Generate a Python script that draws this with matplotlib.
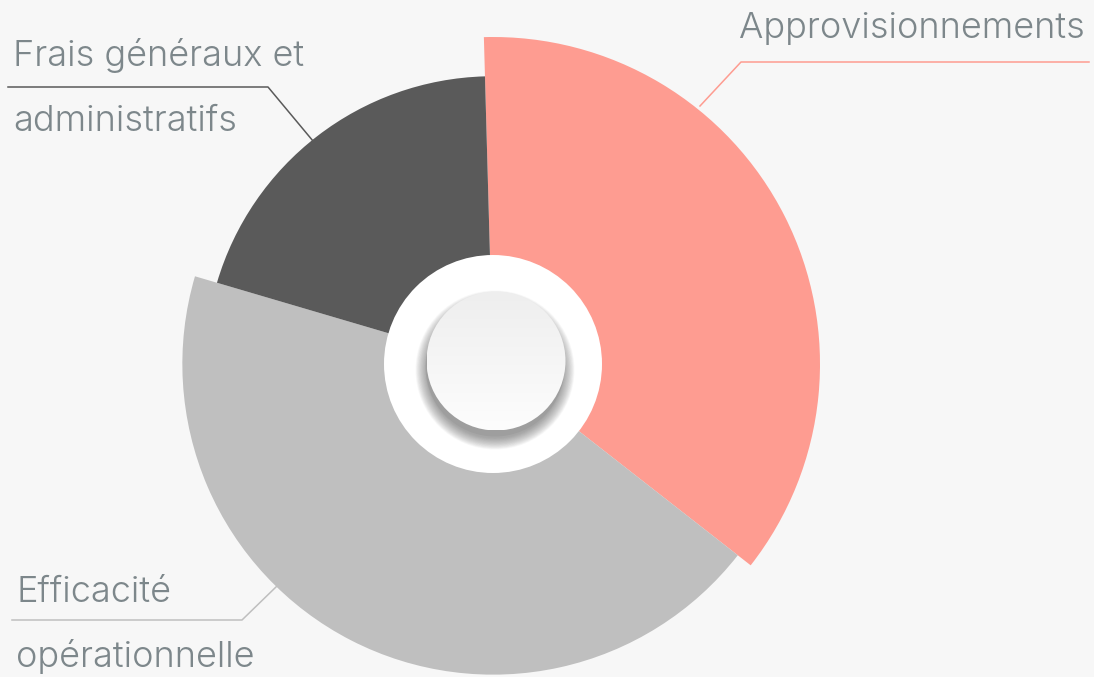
import numpy as np
import matplotlib
matplotlib.use("Agg")
import matplotlib.pyplot as plt
from matplotlib.patches import Wedge, Circle
from matplotlib.colors import LinearSegmentedColormap

# ---- data ----
categories = ["Approvisionnements", "Efficacité opérationnelle", "Frais généraux et administratifs"]
label_lines = [["Approvisionnements"], ["Efficacité", "opérationnelle"], ["Frais généraux et", "administratifs"]]
values = [36, 44, 20]
radius_values = [100, 95, 88]
colors = ["#fe9c91", "#bfbfbf", "#5a5a5a"]

W, H = 1094, 677
fig = plt.figure(figsize=(W / 100, H / 100), dpi=100)
fig.patch.set_facecolor("#f7f7f7")
ax = fig.add_axes([0, 0, 1, 1])
ax.set_xlim(0, W)
ax.set_ylim(0, H)
ax.axis("off")

def Y(y):
    return H - y

cx, cy = 493, Y(364)
r_max = 327
start = 91.6
total = sum(values)
ang = start
for v, rv, c in zip(values, radius_values, colors):
    span = v / total * 360
    r = r_max * rv / max(radius_values)
    ax.add_patch(Wedge((cx, cy), r, ang - span, ang, facecolor=c, edgecolor="none"))
    ang -= span

# white hole
ax.add_patch(Circle((cx, cy), 109, facecolor="white", edgecolor="none", zorder=3))

# button shadow (soft)
bx, by, br = 496, Y(361), 69.5
for i in range(20, 0, -1):
    ax.add_patch(Circle((bx - 1, by - 9), br - 2 + i * 0.6, facecolor="#505050",
                        edgecolor="none", alpha=0.03, zorder=4))
ax.add_patch(Circle((bx - 1, by - 6), br, facecolor="#909090", edgecolor="none",
                    alpha=0.35, zorder=4))
# button with gradient
grad = np.linspace(0, 1, 256).reshape(-1, 1)
btn = Circle((bx, by), br, facecolor="none", edgecolor="none", zorder=5)
ax.add_patch(btn)
cmap = LinearSegmentedColormap.from_list("g", ["#fdfdfd", "#eeeeee"])
im = ax.imshow(grad, extent=[bx - br, bx + br, by - br, by + br], origin="lower",
               cmap=cmap, zorder=6, aspect="auto")
im.set_clip_path(btn)
ax.set_xlim(0, W)
ax.set_ylim(0, H)

# labels
txt_color = "#7d878b"
fs = 26
font = "Inter"
fw = 300
kw = dict(fontsize=fs, color=txt_color, family=font, fontweight=fw,
          va="baseline", ha="left")
# Approvisionnements
ax.plot([700, 741, 1089], [Y(106), Y(62), Y(62)], color=colors[0], lw=1.1, zorder=2)
ax.text(739, Y(38), label_lines[0][0], **kw)
# Frais généraux
ax.plot([313, 268, 8], [Y(141), Y(87), Y(87)], color=colors[2], lw=1.1, zorder=2)
ax.text(13, Y(66), label_lines[2][0], **kw)
ax.text(13, Y(131), label_lines[2][1], **kw)
# Efficacité
ax.plot([277, 242, 12], [Y(586), Y(620), Y(620)], color=colors[1], lw=1.1, zorder=2)
ax.text(16, Y(602), label_lines[1][0], **kw)
ax.text(16, Y(667), label_lines[1][1], **kw)

fig.savefig("out.png", dpi=100, facecolor=fig.get_facecolor())
